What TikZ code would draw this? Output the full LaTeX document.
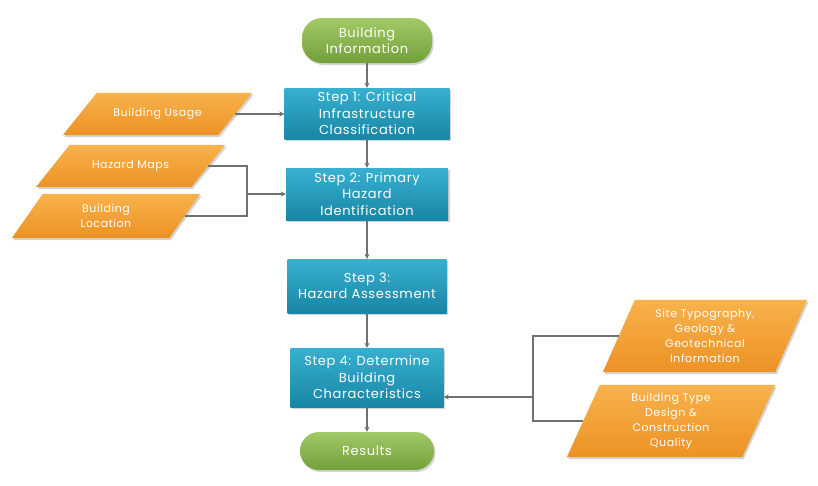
\documentclass[tikz,border=0pt]{standalone}
\usepackage{fontspec}
\setmainfont{Poppins}[LetterSpace=5]
\usetikzlibrary{arrows.meta,shadows,backgrounds}
\definecolor{steptop}{HTML}{38B0D0}
\definecolor{stepbot}{HTML}{1886A6}
\definecolor{termtop}{HTML}{A2C966}
\definecolor{termbot}{HTML}{73A03A}
\definecolor{datatop}{HTML}{F8B24C}
\definecolor{databot}{HTML}{EC9224}
\definecolor{linkgray}{HTML}{707070}
\begin{document}
\begin{tikzpicture}[x=1pt,y=-1pt,
    every node/.style={text=white, align=center, inner sep=2pt},
    boxshadow/.style={drop shadow={shadow xshift=1.5pt, shadow yshift=-2pt, opacity=.35}},
    stepbox/.style={rectangle, top color=steptop, bottom color=stepbot,
      font=\fontsize{13}{16.5}\selectfont, boxshadow},
    terminal/.style={rectangle, rounded corners=20pt, top color=termtop, bottom color=termbot,
      font=\fontsize{13}{16}\selectfont, boxshadow},
    datain/.style={rectangle, font=\fontsize{11}{15}\selectfont},
    datafill/.style={top color=datatop, bottom color=databot, boxshadow},
    link/.style={draw=linkgray, line width=1.6pt},
    flow/.style={link, -{Stealth[length=5pt,width=5pt]}}]
  \useasboundingbox (0,0) rectangle (818,485);
  % main chain
  \node[terminal, minimum width=130pt, minimum height=45pt] (info) at (367,40.5) {Building\\Information};
  \node[stepbox, minimum width=165pt, minimum height=51pt] (step1) at (367,113.5) {Step 1: Critical\\Infrastructure\\Classification};
  \node[stepbox, minimum width=162pt, minimum height=52pt] (step2) at (367,194) {Step 2: Primary\\Hazard\\Identification};
  \node[stepbox, minimum width=159pt, minimum height=54pt] (step3) at (367,286) {Step 3:\\Hazard Assessment};
  \node[stepbox, minimum width=153pt, minimum height=59pt] (step4) at (367,377.5) {Step 4: Determine\\Building\\Characteristics};
  \node[terminal, rounded corners=19pt, minimum width=134pt, minimum height=38pt] (results) at (367,451) {Results};
  % inputs (width measured along the mid line)
  \node[datain, minimum width=155pt, minimum height=42pt] (usage) at (157.5,114) {Building Usage};
  \node[datain, minimum width=155pt, minimum height=42pt] (maps) at (130.5,166) {Hazard Maps};
  \node[datain, minimum width=157pt, minimum height=44pt] (location) at (106,216) {Building\\Location};
  \node[datain, minimum width=172pt, minimum height=72pt] (site) at (705,336) {Site Typography,\\Geology \&\\Geotechnical\\Information};
  \node[datain, minimum width=175pt, minimum height=72pt] (type) at (671,421) {Building Type\\Design \&\\Construction\\Quality};
  \begin{scope}[on background layer]
    \foreach \n/\s in {usage/17, maps/17, location/15.5, site/16, type/16.5}
      \path[datafill] ([xshift=\s pt]\n.north west) -- ([xshift=\s pt]\n.north east)
        -- ([xshift=-\s pt]\n.south east) -- ([xshift=-\s pt]\n.south west) -- cycle;
  \end{scope}
  % connectors
  \draw[flow] (info) -- (step1);
  \draw[flow] (step1) -- (step2);
  \draw[flow] (step2) -- (step3);
  \draw[flow] (step3) -- (step4);
  \draw[flow] (step4) -- (results);
  \draw[flow] (usage.east) -- (usage.east -| step1.west);
  \coordinate (hazjoin) at (247,194);
  \draw[link] (maps.east) -| (hazjoin) |- (location.east);
  \draw[flow] (hazjoin) -- (step2.west);
  \coordinate (sitejoin) at (533,397);
  \draw[link] (site.west) -| (sitejoin) |- (type.west);
  \draw[flow] (sitejoin) -- (sitejoin -| step4.east);
\end{tikzpicture}
\end{document}
